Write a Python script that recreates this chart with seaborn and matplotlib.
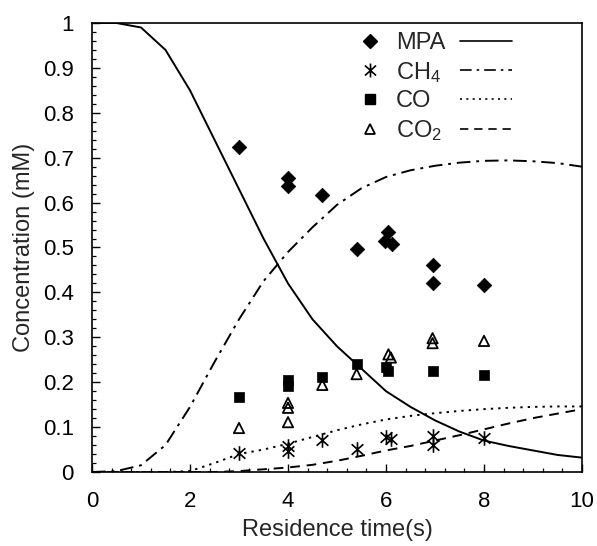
import numpy as np
import pandas as pd
import matplotlib
matplotlib.use("Agg")
import matplotlib.pyplot as plt
import seaborn as sns
from matplotlib.path import Path
from matplotlib.lines import Line2D
from matplotlib.ticker import MultipleLocator, FuncFormatter

# ---------------- data ----------------
mpa_x = [3.0, 4.0, 4.0, 4.7, 5.4, 6.05, 5.98, 6.12, 6.95, 6.95, 8.0]
mpa_y = [0.724, 0.655, 0.636, 0.616, 0.497, 0.534, 0.514, 0.508, 0.462, 0.421, 0.417]

ch4_x = [3.0, 4.0, 4.0, 4.7, 5.4, 6.0, 6.1, 6.95, 6.95, 8.0]
ch4_y = [0.042, 0.057, 0.046, 0.071, 0.051, 0.079, 0.073, 0.081, 0.061, 0.076]

co_x = [3.0, 4.0, 4.0, 4.7, 5.4, 6.0, 6.05, 6.95, 8.0]
co_y = [0.167, 0.205, 0.192, 0.212, 0.240, 0.233, 0.226, 0.226, 0.216]

co2_x = [3.0, 4.0, 4.0, 4.0, 4.7, 5.4, 6.05, 6.1, 6.95, 6.95, 8.0]
co2_y = [0.098, 0.154, 0.143, 0.111, 0.194, 0.218, 0.262, 0.255, 0.298, 0.287, 0.292]

t_model = [0, 0.5, 1, 1.5, 2, 2.5, 3, 3.5, 4, 4.5, 5, 5.5, 6, 6.5, 7, 7.5, 8, 8.5, 9, 9.5, 10]
mpa_model = [1, 1, 0.99, 0.94, 0.85, 0.74, 0.63, 0.52, 0.42, 0.34, 0.28, 0.23, 0.18,
             0.145, 0.115, 0.09, 0.07, 0.058, 0.048, 0.038, 0.032]
ch4_model = [0, 0.002, 0.015, 0.06, 0.145, 0.245, 0.34, 0.425, 0.49, 0.545, 0.595, 0.632,
             0.657, 0.672, 0.682, 0.689, 0.693, 0.694, 0.692, 0.688, 0.68]
co_model = [0, 0, 0, 0, 0.002, 0.02, 0.04, 0.05, 0.063, 0.078, 0.093, 0.106, 0.117,
            0.125, 0.131, 0.136, 0.14, 0.143, 0.145, 0.146, 0.146]
co2_model = [0, 0, 0, 0, 0, 0, 0.002, 0.006, 0.01, 0.016, 0.025, 0.036, 0.048, 0.058,
             0.07, 0.082, 0.095, 0.108, 0.12, 0.13, 0.14]

labels = ["MPA", "CH$_4$", "CO", "CO$_2$"]

# ---------------- style ----------------
sns.set_style("white")
plt.rcParams["font.family"] = ["Liberation Sans", "DejaVu Sans"]
plt.rcParams["mathtext.fontset"] = "custom"
plt.rcParams["mathtext.rm"] = "Liberation Sans"
plt.rcParams["mathtext.it"] = "Liberation Sans"
plt.rcParams["mathtext.default"] = "regular"

W, H = 597, 546
fig = plt.figure(figsize=(W / 100, H / 100), dpi=100)
ax = fig.add_axes([92 / W, (H - 472) / H, (582 - 92) / W, (472 - 23) / H])

# asterisk marker: vertical stroke plus an X
ast = Path([(0, -1), (0, 1), (-0.8, -0.72), (0.8, 0.72), (-0.8, 0.72), (0.8, -0.72)],
           [Path.MOVETO, Path.LINETO, Path.MOVETO, Path.LINETO, Path.MOVETO, Path.LINETO])

lw = 1.4
styles = {
    "MPA": "-",
    "CH4": (0, (7, 3, 1.5, 3)),
    "CO": (0, (1.2, 2.6)),
    "CO2": (0, (5, 3.5)),
}

model = pd.DataFrame({"t": t_model, "MPA": mpa_model, "CH4": ch4_model,
                      "CO": co_model, "CO2": co2_model})
for key in ["MPA", "CH4", "CO", "CO2"]:
    sns.lineplot(data=model, x="t", y=key, ax=ax, color="black", lw=lw,
                 linestyle=styles[key])

sns.scatterplot(x=mpa_x, y=mpa_y, ax=ax, marker="D", s=55, color="black",
                edgecolor="black", linewidth=0.5, zorder=5)
sns.scatterplot(x=ch4_x, y=ch4_y, ax=ax, marker=ast, s=110, color="black",
                edgecolor="black", linewidth=1.2, zorder=5)
sns.scatterplot(x=co_x, y=co_y, ax=ax, marker="s", s=55, color="black",
                edgecolor="black", linewidth=0.5, zorder=5)
sns.scatterplot(x=co2_x, y=co2_y, ax=ax, marker="^", s=55, facecolors="none",
                edgecolor="black", linewidth=1.3, zorder=5)

# ---------------- axes ----------------
ax.set_xlim(0, 10)
ax.set_ylim(0, 1)
ax.xaxis.set_major_locator(MultipleLocator(2))
ax.xaxis.set_minor_locator(MultipleLocator(0.4))
ax.yaxis.set_major_locator(MultipleLocator(0.1))
ax.yaxis.set_minor_locator(MultipleLocator(0.02))
ax.yaxis.set_major_formatter(FuncFormatter(lambda v, p: f"{v:.1f}".rstrip("0").rstrip(".") if v not in (0, 1) else f"{int(round(v))}"))
ax.tick_params(which="both", direction="in", top=False, right=False, bottom=True, left=True,
               colors="black", labelsize=16)
ax.tick_params(which="major", length=6, width=1.0)
ax.tick_params(which="minor", length=3, width=0.9)
ax.tick_params(axis="x", which="both", pad=14)
ax.tick_params(axis="y", which="both", pad=13)
for sp in ax.spines.values():
    sp.set_visible(True)
    sp.set_color("black")
    sp.set_linewidth(1.2)

ax.set_xlabel("Residence time(s)", fontsize=17, labelpad=5)
ax.set_ylabel("Concentration (mM)", fontsize=17, labelpad=6)

# ---------------- legend: marker, text, line sample ----------------
fs = 17
mk_handles = [
    Line2D([], [], ls="none", marker="D", ms=7, color="black"),
    Line2D([], [], ls="none", marker=ast, ms=10, mew=1.2, color="black"),
    Line2D([], [], ls="none", marker="s", ms=7, color="black"),
    Line2D([], [], ls="none", marker="^", ms=7, mfc="none", mew=1.3, color="black"),
]
ln_handles = [Line2D([], [], color="black", lw=1.2, ls=styles[k])
              for k in ["MPA", "CH4", "CO", "CO2"]]

top = 1 - 32 / H
leg1 = ax.legend(mk_handles, labels, loc="upper left",
                 bbox_to_anchor=(358 / W, top), bbox_transform=fig.transFigure,
                 frameon=False, fontsize=fs, handlelength=1.0, handletextpad=0.6,
                 labelspacing=0.24, borderpad=0, borderaxespad=0)
ax.add_artist(leg1)
leg2 = ax.legend(ln_handles, labels, loc="upper left",
                 bbox_to_anchor=(460 / W, top), bbox_transform=fig.transFigure,
                 frameon=False, fontsize=fs, handlelength=2.2, handletextpad=0.0,
                 labelspacing=0.24, borderpad=0, borderaxespad=0)
for t in leg2.get_texts():
    t.set_alpha(0)

fig.savefig("out.png", dpi=100)
